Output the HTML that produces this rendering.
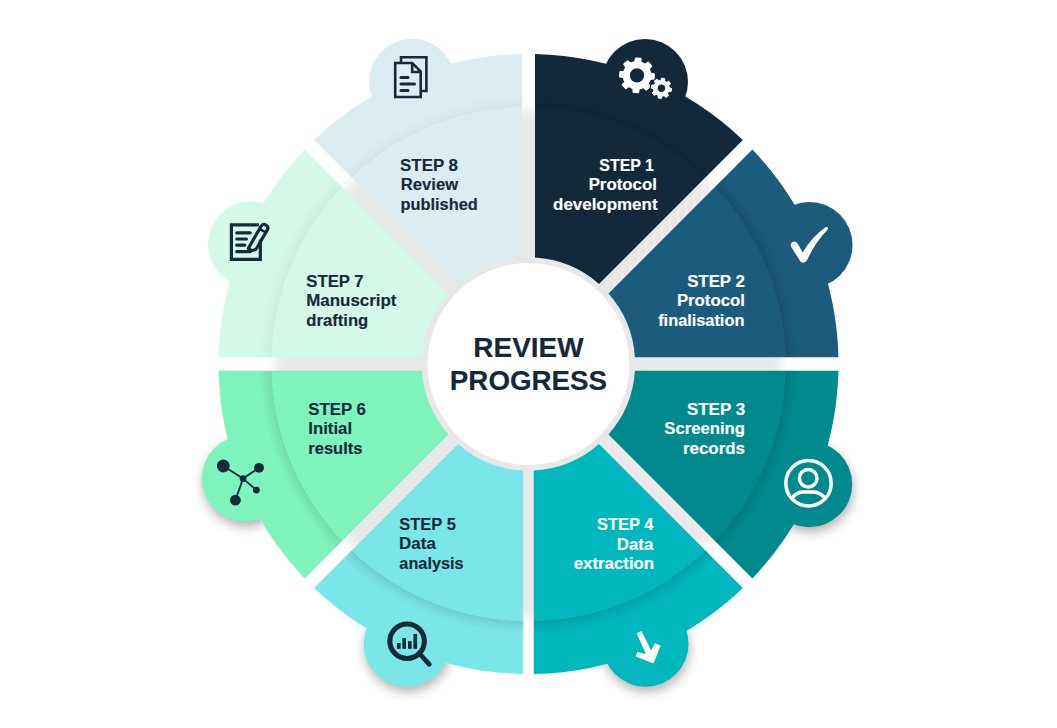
<!DOCTYPE html><html><head><meta charset="utf-8"><style>html,body{margin:0;padding:0;background:#fff;}svg{display:block;}text{font-family:"Liberation Sans",sans-serif;font-weight:bold;}</style></head><body>
<svg width="1057" height="728" viewBox="0 0 1057 728">
<defs>
<filter id="blur" x="-20%" y="-20%" width="140%" height="140%"><feGaussianBlur stdDeviation="6"/></filter>
<radialGradient id="ring" cx="528.5" cy="364.0" r="272" gradientUnits="userSpaceOnUse"><stop offset="0.9449" stop-color="#000" stop-opacity="0"/><stop offset="0.9460" stop-color="#000" stop-opacity="0.13"/><stop offset="0.9632" stop-color="#000" stop-opacity="0.07"/><stop offset="0.9926" stop-color="#000" stop-opacity="0"/><stop offset="1" stop-color="#000" stop-opacity="0"/></radialGradient>
<radialGradient id="gray" cx="528.5" cy="364.0" r="276" gradientUnits="userSpaceOnUse"><stop offset="0" stop-color="#e8e8e8"/><stop offset="0.8696" stop-color="#e8e8e8"/><stop offset="0.9058" stop-color="#efefef"/><stop offset="0.9420" stop-color="#fff"/><stop offset="1" stop-color="#fff"/></radialGradient>
</defs>
<g filter="url(#blur)" fill="#000" opacity="0.3" transform="translate(1 5)"><circle cx="809.2" cy="484.2" r="43.0"/><circle cx="645.5" cy="643.7" r="43.0"/><circle cx="406.7" cy="643.7" r="43.0"/><circle cx="244.9" cy="478.4" r="43.0"/></g>
<circle cx="528.5" cy="364.0" r="310.0" fill="#fff"/>
<circle cx="528.5" cy="364.0" r="276" fill="url(#gray)"/>
<path d="M742.88 140.08 A310.0 310.0 0 0 0 535.00 54.07 L535.00 257.60 A106.6 106.6 0 0 1 598.95 284.00 Z" fill="#13293a"/><circle cx="645" cy="82" r="43.0" fill="#13293a"/>
<path d="M838.43 357.25 A310.0 310.0 0 0 0 752.42 149.62 L608.50 293.55 A106.6 106.6 0 0 1 634.89 357.25 Z" fill="#1d5b7d"/><circle cx="809.5" cy="245" r="43.0" fill="#1d5b7d"/>
<path d="M752.42 578.38 A310.0 310.0 0 0 0 838.43 370.75 L634.89 370.75 A106.6 106.6 0 0 1 608.50 434.45 Z" fill="#008a8e"/><circle cx="809.2" cy="484.2" r="43.0" fill="#008a8e"/>
<path d="M533.75 673.96 A310.0 310.0 0 0 0 742.88 587.92 L598.95 444.00 A106.6 106.6 0 0 1 533.75 470.47 Z" fill="#00b7bd"/><circle cx="645.5" cy="643.7" r="43.0" fill="#00b7bd"/>
<path d="M314.12 587.92 A310.0 310.0 0 0 0 523.25 673.96 L523.25 470.47 A106.6 106.6 0 0 1 458.05 444.00 Z" fill="#7be6ea"/><circle cx="406.7" cy="643.7" r="43.0" fill="#7be6ea"/>
<path d="M218.57 370.75 A310.0 310.0 0 0 0 304.58 578.38 L448.50 434.45 A106.6 106.6 0 0 1 422.11 370.75 Z" fill="#7ef3bd"/><circle cx="244.9" cy="478.4" r="43.0" fill="#7ef3bd"/>
<path d="M304.58 149.62 A310.0 310.0 0 0 0 218.57 357.25 L422.11 357.25 A106.6 106.6 0 0 1 448.50 293.55 Z" fill="#d4f9e8"/><circle cx="251" cy="244.3" r="43.0" fill="#d4f9e8"/>
<path d="M522.00 54.07 A310.0 310.0 0 0 0 314.12 140.08 L458.05 284.00 A106.6 106.6 0 0 1 522.00 257.60 Z" fill="#dcedf1"/><circle cx="412" cy="81.8" r="43.0" fill="#dcedf1"/>
<clipPath id="c1"><path d="M742.88 140.08 A310.0 310.0 0 0 0 535.00 54.07 L535.00 257.60 A106.6 106.6 0 0 1 598.95 284.00 Z"/></clipPath>
<circle cx="528.5" cy="364.0" r="272" fill="url(#ring)" opacity="1.0" clip-path="url(#c1)"/>
<clipPath id="c2"><path d="M838.43 357.25 A310.0 310.0 0 0 0 752.42 149.62 L608.50 293.55 A106.6 106.6 0 0 1 634.89 357.25 Z"/></clipPath>
<circle cx="528.5" cy="364.0" r="272" fill="url(#ring)" opacity="1.0" clip-path="url(#c2)"/>
<clipPath id="c3"><path d="M752.42 578.38 A310.0 310.0 0 0 0 838.43 370.75 L634.89 370.75 A106.6 106.6 0 0 1 608.50 434.45 Z"/></clipPath>
<circle cx="528.5" cy="364.0" r="272" fill="url(#ring)" opacity="1.0" clip-path="url(#c3)"/>
<clipPath id="c4"><path d="M533.75 673.96 A310.0 310.0 0 0 0 742.88 587.92 L598.95 444.00 A106.6 106.6 0 0 1 533.75 470.47 Z"/></clipPath>
<circle cx="528.5" cy="364.0" r="272" fill="url(#ring)" opacity="1.0" clip-path="url(#c4)"/>
<clipPath id="c5"><path d="M314.12 587.92 A310.0 310.0 0 0 0 523.25 673.96 L523.25 470.47 A106.6 106.6 0 0 1 458.05 444.00 Z"/></clipPath>
<circle cx="528.5" cy="364.0" r="272" fill="url(#ring)" opacity="0.8" clip-path="url(#c5)"/>
<clipPath id="c6"><path d="M218.57 370.75 A310.0 310.0 0 0 0 304.58 578.38 L448.50 434.45 A106.6 106.6 0 0 1 422.11 370.75 Z"/></clipPath>
<circle cx="528.5" cy="364.0" r="272" fill="url(#ring)" opacity="0.7" clip-path="url(#c6)"/>
<clipPath id="c7"><path d="M304.58 149.62 A310.0 310.0 0 0 0 218.57 357.25 L422.11 357.25 A106.6 106.6 0 0 1 448.50 293.55 Z"/></clipPath>
<circle cx="528.5" cy="364.0" r="272" fill="url(#ring)" opacity="0.3" clip-path="url(#c7)"/>
<clipPath id="c8"><path d="M522.00 54.07 A310.0 310.0 0 0 0 314.12 140.08 L458.05 284.00 A106.6 106.6 0 0 1 522.00 257.60 Z"/></clipPath>
<circle cx="528.5" cy="364.0" r="272" fill="url(#ring)" opacity="0.3" clip-path="url(#c8)"/>
<circle cx="528.5" cy="364.0" r="101" fill="#ffffff"/>
<text x="473.33" y="356.60" font-size="27" fill="#16293a" stroke="#16293a" stroke-width="0.15" textLength="110.20" lengthAdjust="spacingAndGlyphs">REVIEW</text>
<text x="449.85" y="389.80" font-size="27" fill="#16293a" stroke="#16293a" stroke-width="0.15" textLength="157.23" lengthAdjust="spacingAndGlyphs">PROGRESS</text>
<text x="599.30" y="170.80" font-size="16" fill="#ffffff" stroke="#ffffff" stroke-width="0.15" textLength="54.64" lengthAdjust="spacingAndGlyphs">STEP 1</text>
<text x="588.65" y="190.40" font-size="16" fill="#ffffff" stroke="#ffffff" stroke-width="0.15" textLength="68.19" lengthAdjust="spacingAndGlyphs">Protocol</text>
<text x="553.04" y="210.00" font-size="16" fill="#ffffff" stroke="#ffffff" stroke-width="0.15" textLength="104.49" lengthAdjust="spacingAndGlyphs">development</text>
<text x="687.15" y="286.80" font-size="16" fill="#ffffff" stroke="#ffffff" stroke-width="0.15" textLength="57.64" lengthAdjust="spacingAndGlyphs">STEP 2</text>
<text x="676.95" y="306.40" font-size="16" fill="#ffffff" stroke="#ffffff" stroke-width="0.15" textLength="67.88" lengthAdjust="spacingAndGlyphs">Protocol</text>
<text x="658.20" y="326.00" font-size="16" fill="#ffffff" stroke="#ffffff" stroke-width="0.15" textLength="86.16" lengthAdjust="spacingAndGlyphs">finalisation</text>
<text x="686.94" y="414.70" font-size="16" fill="#ffffff" stroke="#ffffff" stroke-width="0.15" textLength="58.16" lengthAdjust="spacingAndGlyphs">STEP 3</text>
<text x="664.26" y="434.30" font-size="16" fill="#ffffff" stroke="#ffffff" stroke-width="0.15" textLength="80.76" lengthAdjust="spacingAndGlyphs">Screening</text>
<text x="682.94" y="453.90" font-size="16" fill="#ffffff" stroke="#ffffff" stroke-width="0.15" textLength="62.00" lengthAdjust="spacingAndGlyphs">records</text>
<text x="596.97" y="529.90" font-size="16" fill="#ffffff" stroke="#ffffff" stroke-width="0.15" textLength="56.47" lengthAdjust="spacingAndGlyphs">STEP 4</text>
<text x="616.85" y="549.50" font-size="16" fill="#ffffff" stroke="#ffffff" stroke-width="0.15" textLength="36.42" lengthAdjust="spacingAndGlyphs">Data</text>
<text x="573.75" y="569.10" font-size="16" fill="#ffffff" stroke="#ffffff" stroke-width="0.15" textLength="80.34" lengthAdjust="spacingAndGlyphs">extraction</text>
<text x="399.17" y="529.80" font-size="16" fill="#152a3a" stroke="#152a3a" stroke-width="0.15" textLength="56.67" lengthAdjust="spacingAndGlyphs">STEP 5</text>
<text x="399.14" y="549.40" font-size="16" fill="#152a3a" stroke="#152a3a" stroke-width="0.15" textLength="36.73" lengthAdjust="spacingAndGlyphs">Data</text>
<text x="399.38" y="569.00" font-size="16" fill="#152a3a" stroke="#152a3a" stroke-width="0.15" textLength="64.17" lengthAdjust="spacingAndGlyphs">analysis</text>
<text x="308.25" y="414.70" font-size="16" fill="#152a3a" stroke="#152a3a" stroke-width="0.15" textLength="57.53" lengthAdjust="spacingAndGlyphs">STEP 6</text>
<text x="308.25" y="434.30" font-size="16" fill="#152a3a" stroke="#152a3a" stroke-width="0.15" textLength="43.87" lengthAdjust="spacingAndGlyphs">Initial</text>
<text x="308.27" y="453.90" font-size="16" fill="#152a3a" stroke="#152a3a" stroke-width="0.15" textLength="54.22" lengthAdjust="spacingAndGlyphs">results</text>
<text x="306.25" y="286.50" font-size="16" fill="#152a3a" stroke="#152a3a" stroke-width="0.15" textLength="57.43" lengthAdjust="spacingAndGlyphs">STEP 7</text>
<text x="306.24" y="306.10" font-size="16" fill="#152a3a" stroke="#152a3a" stroke-width="0.15" textLength="90.22" lengthAdjust="spacingAndGlyphs">Manuscript</text>
<text x="306.26" y="325.70" font-size="16" fill="#152a3a" stroke="#152a3a" stroke-width="0.15" textLength="62.01" lengthAdjust="spacingAndGlyphs">drafting</text>
<text x="400.04" y="170.80" font-size="16" fill="#152a3a" stroke="#152a3a" stroke-width="0.15" textLength="57.95" lengthAdjust="spacingAndGlyphs">STEP 8</text>
<text x="400.86" y="190.40" font-size="16" fill="#152a3a" stroke="#152a3a" stroke-width="0.15" textLength="57.28" lengthAdjust="spacingAndGlyphs">Review</text>
<text x="400.58" y="210.00" font-size="16" fill="#152a3a" stroke="#152a3a" stroke-width="0.15" textLength="77.20" lengthAdjust="spacingAndGlyphs">published</text>
<path d="M635.13 62.23 L635.89 58.44 L640.46 58.76 L640.68 62.62 L641.83 63.01 L642.93 63.50 L643.99 64.09 L644.99 64.77 L648.21 62.62 L651.22 66.08 L648.64 68.96 L649.18 70.05 L649.61 71.18 L649.94 72.34 L650.17 73.53 L653.96 74.29 L653.64 78.86 L649.78 79.08 L649.39 80.23 L648.90 81.33 L648.31 82.39 L647.63 83.39 L649.78 86.61 L646.32 89.62 L643.44 87.04 L642.35 87.58 L641.22 88.01 L640.06 88.34 L638.87 88.57 L638.11 92.36 L633.54 92.04 L633.32 88.18 L632.17 87.79 L631.07 87.30 L630.01 86.71 L629.01 86.03 L625.79 88.18 L622.78 84.72 L625.36 81.84 L624.82 80.75 L624.39 79.62 L624.06 78.46 L623.83 77.27 L620.04 76.51 L620.36 71.94 L624.22 71.72 L624.61 70.57 L625.10 69.47 L625.69 68.41 L626.37 67.41 L624.22 64.19 L627.68 61.18 L630.56 63.76 L631.65 63.22 L632.78 62.79 L633.94 62.46 Z M645.10 75.40 A8.1 8.1 0 1 0 628.90 75.40 A8.1 8.1 0 1 0 645.10 75.40 Z" fill="#fff" stroke="#fff" stroke-width="2.0" stroke-linejoin="round" fill-rule="evenodd"/>
<path d="M660.78 80.42 L661.58 78.10 L664.72 78.65 L664.68 81.11 L665.17 81.36 L665.64 81.64 L666.10 81.95 L666.53 82.29 L668.74 81.22 L670.57 83.83 L668.80 85.53 L668.97 86.06 L669.11 86.59 L669.21 87.13 L669.28 87.68 L671.60 88.48 L671.05 91.62 L668.59 91.58 L668.34 92.07 L668.06 92.54 L667.75 93.00 L667.41 93.43 L668.48 95.64 L665.87 97.47 L664.17 95.70 L663.64 95.87 L663.11 96.01 L662.57 96.11 L662.02 96.18 L661.22 98.50 L658.08 97.95 L658.12 95.49 L657.63 95.24 L657.16 94.96 L656.70 94.65 L656.27 94.31 L654.06 95.38 L652.23 92.77 L654.00 91.07 L653.83 90.54 L653.69 90.01 L653.59 89.47 L653.52 88.92 L651.20 88.12 L651.75 84.98 L654.21 85.02 L654.46 84.53 L654.74 84.06 L655.05 83.60 L655.39 83.17 L654.32 80.96 L656.93 79.13 L658.63 80.90 L659.16 80.73 L659.69 80.59 L660.23 80.49 Z M665.70 88.30 A4.3 4.3 0 1 0 657.10 88.30 A4.3 4.3 0 1 0 665.70 88.30 Z" fill="#fff" stroke="#13293a" stroke-width="3" stroke-linejoin="round" fill-rule="evenodd" paint-order="stroke"/>
<path d="M660.78 80.42 L661.58 78.10 L664.72 78.65 L664.68 81.11 L665.17 81.36 L665.64 81.64 L666.10 81.95 L666.53 82.29 L668.74 81.22 L670.57 83.83 L668.80 85.53 L668.97 86.06 L669.11 86.59 L669.21 87.13 L669.28 87.68 L671.60 88.48 L671.05 91.62 L668.59 91.58 L668.34 92.07 L668.06 92.54 L667.75 93.00 L667.41 93.43 L668.48 95.64 L665.87 97.47 L664.17 95.70 L663.64 95.87 L663.11 96.01 L662.57 96.11 L662.02 96.18 L661.22 98.50 L658.08 97.95 L658.12 95.49 L657.63 95.24 L657.16 94.96 L656.70 94.65 L656.27 94.31 L654.06 95.38 L652.23 92.77 L654.00 91.07 L653.83 90.54 L653.69 90.01 L653.59 89.47 L653.52 88.92 L651.20 88.12 L651.75 84.98 L654.21 85.02 L654.46 84.53 L654.74 84.06 L655.05 83.60 L655.39 83.17 L654.32 80.96 L656.93 79.13 L658.63 80.90 L659.16 80.73 L659.69 80.59 L660.23 80.49 Z M665.70 88.30 A4.3 4.3 0 1 0 657.10 88.30 A4.3 4.3 0 1 0 665.70 88.30 Z" fill="#fff" stroke="#fff" stroke-width="0.9" stroke-linejoin="round" fill-rule="evenodd"/>
<path d="M791.5 247.5 Q789.3 243.6 792.8 241.9 Q795.6 240.6 797.6 243.6 L802.7 252.6 Q812 236.5 825.6 227.3 Q828.6 226.3 827.9 229.2 Q815.5 242 807.6 259 Q804.6 264.8 800.4 261.6 Z" fill="#fff"/>
<g fill="none" stroke="#fff" stroke-width="3.5"><circle cx="808.5" cy="483.2" r="22.7"/><circle cx="808.2" cy="478.3" r="8.8"/><path d="M792.6 497.2 Q797 491.9 803.5 491.9 L813 491.9 Q819.5 491.9 824.2 497.2"/></g>
<path d="M636.7 633.4 L641.5 631 L651.2 650.6 L654.9 643.3 L660.7 645.4 L653.5 663.6 L635.6 656.4 L637.4 651.9 L645.9 653.9 Z" fill="#fff"/>
<g fill="#152a3a"><circle cx="407.1" cy="641.2" r="17.25" fill="none" stroke="#152a3a" stroke-width="5.1"/><line x1="419.5" y1="653.5" x2="429.3" y2="664.3" stroke="#152a3a" stroke-width="4.8" stroke-linecap="round"/><rect x="396.9" y="643" width="3.7" height="5.8"/><rect x="402.3" y="638.1" width="3.7" height="10.7"/><rect x="408" y="641.2" width="3.7" height="7.6"/><rect x="413.4" y="634" width="3.7" height="14.8"/></g>
<g fill="#152a3a" stroke="#152a3a" stroke-width="1.8"><line x1="243" y1="478.6" x2="223.3" y2="466"/><line x1="243" y1="478.6" x2="259" y2="467.8"/><line x1="243" y1="478.6" x2="235.4" y2="500.2"/><line x1="243" y1="478.6" x2="256.4" y2="490.1"/><circle cx="243" cy="478.6" r="3.4" stroke="none"/><circle cx="223.3" cy="466" r="6.4" stroke="none"/><circle cx="259" cy="467.8" r="4.9" stroke="none"/><circle cx="235.4" cy="500.2" r="5.4" stroke="none"/><circle cx="256.4" cy="490.1" r="3.4" stroke="none"/></g>
<g fill="none" stroke="#152a3a" stroke-width="3.2" stroke-linecap="round" stroke-linejoin="round"><path d="M260.3 239.8 L260.3 259.4 L231.4 259.4 L231.4 224.8 L259 224.8" stroke-linecap="butt" stroke-linejoin="miter"/><line x1="236.8" y1="232.9" x2="250.2" y2="232.9"/><line x1="236.8" y1="239" x2="246.4" y2="239"/><line x1="236.8" y1="245.2" x2="244.7" y2="245.2"/><path d="M236.8 251.7 L250.2 251.7"/><g transform="translate(251.2 250.6) rotate(-60)"><path d="M0 0 L0.5 -3.6 L26 -3.6 Q29.5 -3.6 29.5 0 Q29.5 3.6 26 3.6 L5 3.6 Q2 3.6 0 0 Z"/><line x1="23" y1="-3.6" x2="23" y2="3.6" stroke-width="2.4"/></g></g>
<g fill="none" stroke="#152a3a" stroke-width="2.6" stroke-linejoin="miter"><path d="M401 63 L401 57.3 L426.4 57.3 L426.4 91 L420.7 91"/><path d="M395.2 63 L412.2 63 L420.7 71.5 L420.7 97 L395.2 97 Z" fill="#dcedf1"/><path d="M412.2 63 L412.2 72 L420.7 72"/><g stroke-width="3" stroke-linecap="round"><line x1="401" y1="77.6" x2="408" y2="77.6"/><line x1="401" y1="84" x2="414.5" y2="84"/><line x1="401" y1="90.4" x2="408" y2="90.4"/></g></g>
</svg></body></html>
